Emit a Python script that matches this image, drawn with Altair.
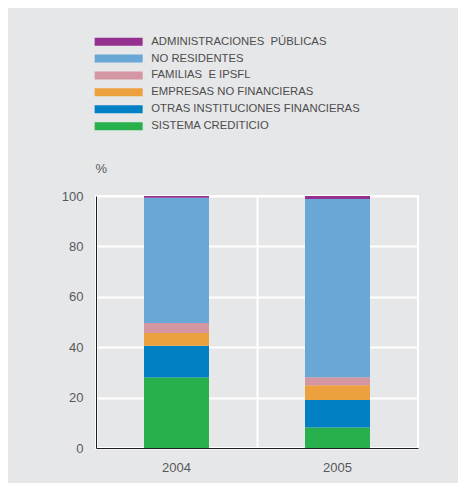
import altair as alt
import pandas as pd

years = ["2004", "2005"]
sectors = [
    "SISTEMA CREDITICIO",
    "OTRAS INSTITUCIONES FINANCIERAS",
    "EMPRESAS NO FINANCIERAS",
    "FAMILIAS\u00a0 E IPSFL",
    "NO RESIDENTES",
    "ADMINISTRACIONES\u00a0 PÚBLICAS",
]
values_2004 = [28.0, 12.6, 5.0, 4.0, 49.7, 0.7]
values_2005 = [8.1, 10.9, 5.9, 3.2, 70.7, 1.2]
colors = ["#27b04c", "#0180c3", "#eda03e", "#d396a2", "#68a7d6", "#952f90"]

rows = []
for yr, vals in zip(years, [values_2004, values_2005]):
    for i, (s, v) in enumerate(zip(sectors, vals)):
        rows.append({"year": yr, "sector": s, "value": v, "order": i})
df = pd.DataFrame(rows)

font = "Liberation Sans"

chart = alt.Chart(df).mark_bar(size=65).encode(
    x=alt.X("year:N", title=None, scale=alt.Scale(paddingInner=0, paddingOuter=0),
            axis=alt.Axis(labelAngle=0, ticks=False, grid=True, gridColor="white",
                          gridWidth=2, bandPosition=0, labelPadding=13,
                          labelFontSize=13, labelColor="#58595b", labelFont=font,
                          domainColor="#231f20", domainWidth=1)),
    y=alt.Y("value:Q", stack="zero", scale=alt.Scale(domain=[0, 100]),
            axis=alt.Axis(values=[0, 20, 40, 60, 80, 100], ticks=False, grid=True,
                          gridColor="white", gridWidth=2, labelPadding=13,
                          labelFontSize=13, labelColor="#58595b", labelFont=font,
                          domainColor="#231f20", domainWidth=1,
                          title="%", titleAngle=0, titleAlign="left",
                          titleBaseline="middle", titleX=-1, titleY=-28,
                          titleFontSize=13, titleFontWeight="normal",
                          titleColor="#58595b", titleFont=font)),
    color=alt.Color("sector:N",
                    scale=alt.Scale(domain=list(reversed(sectors)),
                                    range=list(reversed(colors))),
                    legend=alt.Legend(orient="none", legendX=17, legendY=-160,
                                      title=None,
                                      symbolType="M-6,-1H6V1H-6Z",
                                      symbolSize=64, symbolStrokeWidth=0,
                                      symbolOpacity=1,
                                      labelFontSize=11.3, labelFont=font,
                                      labelColor="#4d4d4d", labelOffset=27,
                                      rowPadding=4.9, labelLimit=400)),
    order=alt.Order("order:Q", sort="ascending"),
).properties(
    width=322, height=252,
    background="#e6e7e8",
    padding={"left": 88, "top": 188, "right": 40, "bottom": 35},
    autosize=alt.AutoSizeParams(type="none"),
).configure_view(stroke="white", strokeWidth=2)

chart.save("out.html", embed_options={"renderer": "svg", "actions": False})
